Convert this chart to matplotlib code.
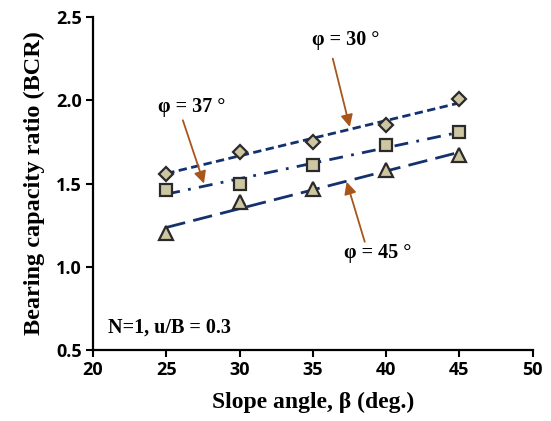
import matplotlib
matplotlib.use('Agg')
import matplotlib.pyplot as plt
import numpy as np

# slope angle (deg.) and bearing capacity ratio for each friction angle
beta = [25, 30, 35, 40, 45]
bcr_phi30 = [1.56, 1.69, 1.75, 1.85, 2.01]
bcr_phi37 = [1.46, 1.50, 1.61, 1.73, 1.81]
bcr_phi45 = [1.20, 1.39, 1.47, 1.58, 1.67]

x_ticks = [20, 25, 30, 35, 40, 45, 50]
y_ticks = [0.5, 1.0, 1.5, 2.0, 2.5]

line_col = '#13316e'
fill_col = '#cdc6a2'
edge_col = '#2a2a2a'
arrow_col = '#a8561c'
serif = 'Liberation Serif'

fig = plt.figure(figsize=(5.51, 4.21), dpi=100)
ax = fig.add_axes([0.1688, 0.1686, 0.798, 0.791])

series = [
    (bcr_phi30, 'D', 7.5, (0, (3, 1.6))),
    (bcr_phi37, 's', 8.5, (0, (5, 3, 1, 3))),
    (bcr_phi45, '^', 9.5, (0, (7, 3))),
]

xs = np.array(beta, dtype=float)
for vals, mk, ms, ls in series:
    # linear trend line through each set
    k, b = np.polyfit(xs, vals, 1)
    ax.plot(xs, k * xs + b, color=line_col, lw=2, linestyle=ls, zorder=2)
    ax.plot(xs, vals, linestyle='none', marker=mk, markersize=ms,
            markerfacecolor=fill_col, markeredgecolor=edge_col,
            markeredgewidth=1.6, zorder=3)

ax.set_xlim(20, 50)
ax.set_ylim(0.5, 2.5)
ax.set_xticks(x_ticks)
ax.set_yticks(y_ticks)
ax.set_xticklabels([str(t) for t in x_ticks], fontfamily='Open Sans',
                   fontweight='bold', fontsize=13)
ax.set_yticklabels(['%.1f' % t for t in y_ticks], fontfamily='Open Sans',
                   fontweight='bold', fontsize=13)
ax.tick_params(direction='out', length=5, width=1.5, pad=3)

for s in ['top', 'right']:
    ax.spines[s].set_visible(False)
for s in ['left', 'bottom']:
    ax.spines[s].set_linewidth(1.6)

ax.set_xlabel('Slope angle, β (deg.)', fontfamily=serif, fontweight='bold',
              fontsize=17, labelpad=9)
ax.set_ylabel('Bearing capacity ratio (BCR)', fontfamily=serif,
              fontweight='bold', fontsize=17.5, labelpad=8)

txt = dict(fontfamily=serif, fontweight='bold', fontsize=14.5,
           ha='center', va='center')
arrow = dict(arrowstyle='-|>', color=arrow_col, lw=1.3, mutation_scale=18,
             shrinkA=0, shrinkB=0)

# labels and arrows pointing at the trend lines
ax.text(37.25, 2.36, 'φ = 30 °', **txt)
ax.annotate('', xy=(37.52, 1.84), xytext=(36.36, 2.25), arrowprops=arrow)
ax.text(26.7, 1.96, 'φ = 37 °', **txt)
ax.annotate('', xy=(27.57, 1.50), xytext=(26.13, 1.88), arrowprops=arrow)
ax.text(39.4, 1.08, 'φ = 45 °', **txt)
ax.annotate('', xy=(37.31, 1.51), xytext=(38.54, 1.15), arrowprops=arrow)

ax.text(21.0, 0.632, 'N=1, u/B = 0.3', fontfamily=serif, fontweight='bold',
        fontsize=14.5, ha='left', va='center')

fig.savefig('out.png', dpi=100)
